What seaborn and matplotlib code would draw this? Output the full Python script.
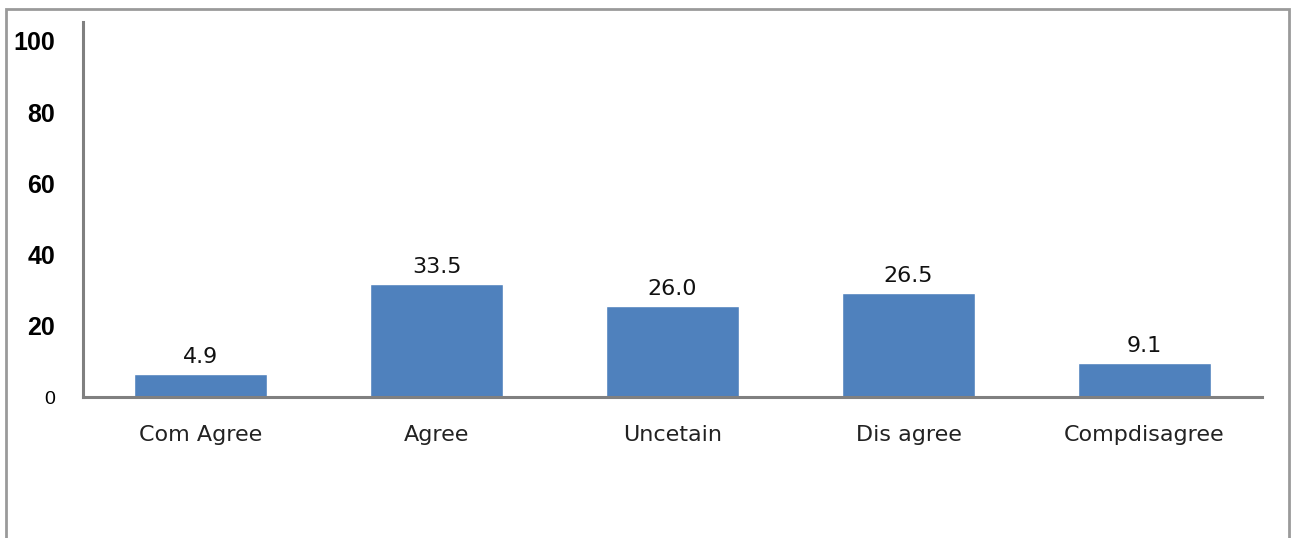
import matplotlib
matplotlib.use("Agg")
import matplotlib.pyplot as plt
import seaborn as sns
import pandas as pd
from matplotlib.patches import Rectangle

categories = ["Com Agree", "Agree", "Uncetain", "Dis agree", "Compdisagree"]
bar_heights = [6.5, 31.7, 25.6, 29.2, 9.6]
value_labels = ["4.9", "33.5", "26.0", "26.5", "9.1"]
y_ticks = [0, 20, 40, 60, 80, 100]

sns.set_theme(style="white")
plt.rcParams["font.family"] = ["DejaVu Sans"]

df = pd.DataFrame({"cat": categories, "val": bar_heights})

fig = plt.figure(figsize=(12.93, 5.38), dpi=100)
ax = fig.add_axes([0.0642, 0.262, 0.912, 0.697])

sns.barplot(data=df, x="cat", y="val", color="#4F81BD", saturation=1,
            width=0.564, ax=ax)

ax.set_xlim(-0.5, 4.5)
ax.set_ylim(0, 105.3)
ax.set_yticks(y_ticks)
ax.set_yticklabels([str(t) for t in y_ticks])
for lbl in ax.get_yticklabels():
    lbl.set_fontfamily("Liberation Sans")
    if lbl.get_text() == "0":
        lbl.set_fontsize(14)
        lbl.set_fontweight("normal")
    else:
        lbl.set_fontsize(18)
        lbl.set_fontweight("bold")
    lbl.set_color("black")
ax.tick_params(axis="y", length=0, pad=20)
ax.tick_params(axis="x", length=0, pad=20, labelsize=16, labelcolor="#222222")
ax.set_xlabel("")
ax.set_ylabel("")

for side in ["top", "right"]:
    ax.spines[side].set_visible(False)
for side in ["left", "bottom"]:
    ax.spines[side].set_color("#808080")
    ax.spines[side].set_linewidth(2.2)

ax.bar_label(ax.containers[0], labels=value_labels, padding=5,
             fontsize=16, color="#111111")

# outer chart frame
fig.add_artist(Rectangle((6 / 1293, -0.05), (1289 - 6) / 1293, 1.05 - 9 / 538,
                         transform=fig.transFigure, fill=False,
                         edgecolor="#9a9a9a", linewidth=2))

fig.savefig("out.png", dpi=100)
